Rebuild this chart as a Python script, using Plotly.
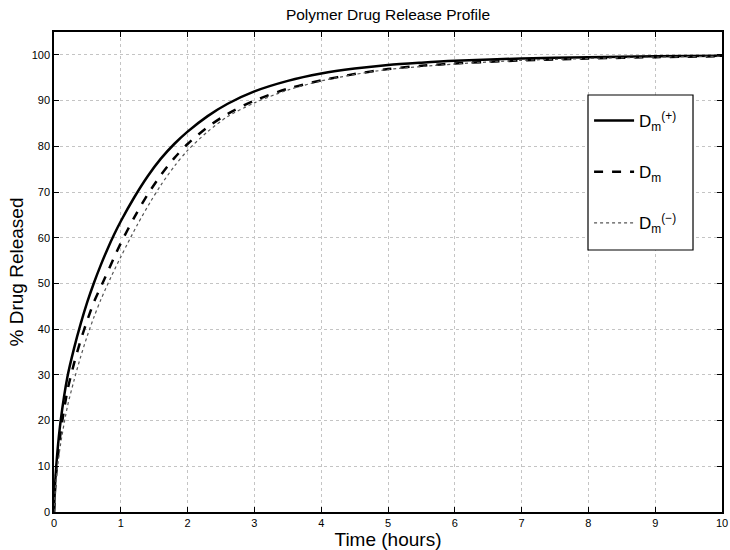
import plotly.graph_objects as go

# Time points (hours) and % released for each curve
t_plus = [0, 0.02, 0.05, 0.1, 0.2, 0.3, 0.4, 0.5, 0.6, 0.7, 0.8, 0.9, 1.0, 1.2, 1.4, 1.6, 1.8, 2.0,
          2.3, 2.6, 3.0, 3.5, 4.0, 4.5, 5.0, 5.5, 6.0, 7.0, 8.0, 9.0, 10.0]
d_plus = [0, 7, 13, 20, 29.5, 35.8, 41.2, 46.0, 50.2, 54.0, 57.5, 60.7, 63.6, 68.8, 73.4, 77.3, 80.5, 83.2,
          86.6, 89.3, 92.0, 94.3, 95.9, 97.0, 97.8, 98.3, 98.7, 99.2, 99.5, 99.7, 99.8]

t_mid = [0, 0.02, 0.05, 0.1, 0.2, 0.3, 0.4, 0.5, 0.6, 0.75, 0.9, 1.0, 1.2, 1.4, 1.6, 1.8, 2.0,
         2.3, 2.6, 3.0, 3.5, 4.0, 4.5, 5.0, 5.5, 6.0, 7.0, 8.0, 9.0, 10.0]
d_mid = [0, 6, 11, 17.5, 26.5, 32.5, 37.6, 42.0, 46.0, 50.8, 55.7, 58.8, 64.4, 69.4, 73.7, 77.4, 80.5,
         84.2, 87.1, 90.0, 92.6, 94.4, 95.8, 96.9, 97.6, 98.1, 98.8, 99.2, 99.5, 99.7]

t_minus = [0, 0.02, 0.05, 0.1, 0.2, 0.3, 0.4, 0.5, 0.6, 0.7, 0.85, 1.0, 1.1, 1.25, 1.45, 1.6, 1.8, 2.0,
           2.3, 2.6, 3.0, 3.5, 4.0, 4.5, 5.0, 6.0, 7.0, 8.0, 9.0, 10.0]
d_minus = [0, 5, 9.5, 15, 23, 28.8, 34.0, 38.6, 42.7, 46.4, 51.3, 55.8, 58.7, 62.9, 68.0, 71.5, 75.6, 79.1,
           83.2, 86.5, 89.5, 92.3, 94.3, 95.7, 96.8, 98.0, 98.8, 99.2, 99.5, 99.7]

x_ticks = list(range(0, 11))
y_ticks = list(range(0, 101, 10))

FONT = "Liberation Sans, Arial, Helvetica, sans-serif"

fig = go.Figure()
fig.add_trace(go.Scatter(x=t_plus, y=d_plus, mode="lines",
                         line=dict(color="black", width=2.5, shape="spline", smoothing=0.8),
                         name="D<sub>m</sub><sup>(+)</sup>", legendgroup="a"))
fig.add_trace(go.Scatter(x=t_mid, y=d_mid, mode="lines",
                         line=dict(color="black", width=2.5, dash="dash", shape="spline", smoothing=0.8),
                         name="D<sub>m</sub>", legendgroup="b"))
fig.add_trace(go.Scatter(x=t_minus, y=d_minus, mode="lines",
                         line=dict(color="#555555", width=1.2, dash="dot", shape="spline", smoothing=0.8),
                         name="D<sub>m</sub><sup>(\u2212)</sup>", legendgroup="c"))

axis_common = dict(
    showline=True, linecolor="black", linewidth=1.5, mirror="ticks",
    ticks="inside", ticklen=5, tickwidth=1, tickcolor="black",
    showgrid=True, gridcolor="#c4c4c4", griddash="dot", gridwidth=1,
    zeroline=False, automargin=False,
    tickfont=dict(family=FONT, size=11, color="black"),
)

# legend frame drawn as a paper-space rectangle (legend itself sits on top of it)
fig.add_shape(type="rect", xref="paper", yref="paper",
              x0=0.7994, x1=0.9566, y0=0.5458, y1=0.8688,
              line=dict(color="black", width=1.2), fillcolor="white", layer="above")

fig.update_layout(
    width=730, height=550,
    margin=dict(l=54, r=8, t=32, b=38),
    paper_bgcolor="white", plot_bgcolor="white",
    title=dict(text="Polymer Drug Release Profile", xref="container", x=388 / 730, xanchor="center",
               yref="container", y=1 - 15 / 550, yanchor="middle",
               font=dict(family=FONT, size=15.5, color="black")),
    xaxis=dict(range=[0, 10], tickvals=x_ticks, ticktext=[str(v) for v in x_ticks],
               title=dict(text="Time (hours)", font=dict(family=FONT, size=19, color="black"), standoff=0),
               **axis_common),
    yaxis=dict(range=[0, 105], tickvals=y_ticks, ticktext=[str(v) for v in y_ticks],
               title=dict(text="% Drug Released", font=dict(family=FONT, size=19, color="black"), standoff=3),
               **axis_common),
    legend=dict(x=0.801, y=0.852, xanchor="left", yanchor="top",
                bgcolor="rgba(0,0,0,0)", borderwidth=0,
                font=dict(family=FONT, size=17, color="black"),
                tracegroupgap=26, itemwidth=40),
    showlegend=True,
)

fig.write_html("out.html")
